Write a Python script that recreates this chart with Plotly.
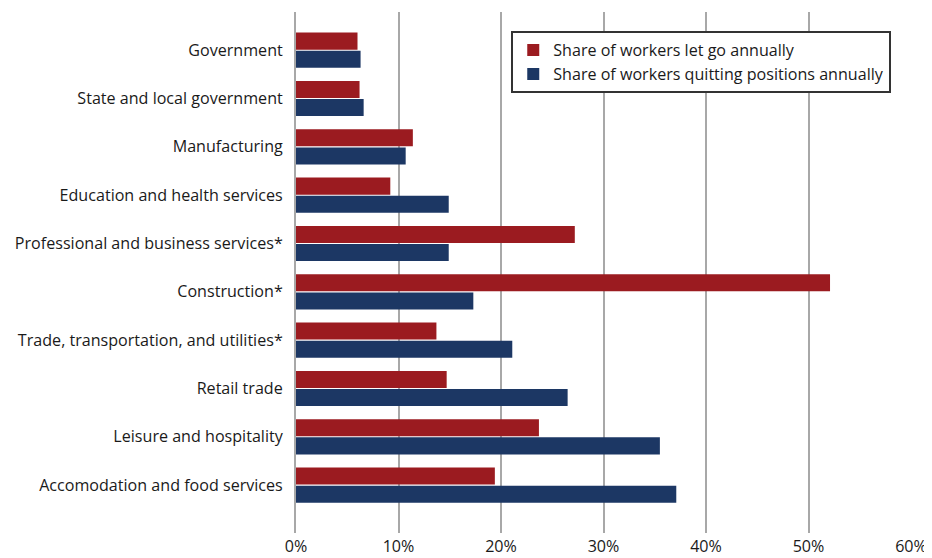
import plotly.graph_objects as go

categories = [
    "Government",
    "State and local government",
    "Manufacturing",
    "Education and health services",
    "Professional and business services*",
    "Construction*",
    "Trade, transportation, and utilities*",
    "Retail trade",
    "Leisure and hospitality",
    "Accomodation and food services",
]
let_go = [6.0, 6.2, 11.4, 9.2, 27.2, 52.1, 13.7, 14.7, 23.7, 19.4]
quitting = [6.3, 6.6, 10.7, 14.9, 14.9, 17.3, 21.1, 26.5, 35.5, 37.1]
x_ticks = [0, 10, 20, 30, 40, 50, 60]
x_tick_labels = ["0%", "10%", "20%", "30%", "40%", "50%", "60%"]

FONT = "Open Sans"
FS = 16.1
RED = "#9B1B20"
BLUE = "#1C3764"

fig = go.Figure()
fig.add_trace(go.Bar(
    y=categories, x=let_go, orientation="h",
    name="Share of workers let go annually",
    marker=dict(color=RED, line=dict(width=0)),
))
fig.add_trace(go.Bar(
    y=categories, x=quitting, orientation="h",
    name="Share of workers quitting positions annually",
    marker=dict(color=BLUE, line=dict(width=0)),
))

# page has an 8px body margin, so the figure is sized/offset to compensate
fig.update_layout(
    width=924, height=550,
    margin=dict(l=288, r=21, t=4, b=25, autoexpand=False),
    paper_bgcolor="white", plot_bgcolor="white",
    barmode="group", bargap=0.25, bargroupgap=0.06,
    font=dict(family=FONT, size=FS, color="#1a1a1a"),
    showlegend=True,
    legend=dict(
        x=0.35, y=0.9635, xanchor="left", yanchor="top",
        bordercolor="#333333", borderwidth=2, bgcolor="white",
        font=dict(family=FONT, size=FS, color="#1a1a1a"),
        traceorder="normal", itemwidth=30, tracegroupgap=0,
    ),
)
fig.update_xaxes(
    range=[0, 60], tickvals=x_ticks, ticktext=x_tick_labels,
    showgrid=True, gridcolor="#A8A8A8", gridwidth=1.5,
    zeroline=False, showline=False, ticks="", ticklabelstandoff=2,
    automargin=False,
    tickfont=dict(family=FONT, size=FS, color="#1a1a1a"),
)
fig.update_yaxes(
    categoryorder="array", categoryarray=categories,
    range=[9.99, -0.79],
    showgrid=False, showline=True, linecolor="#A8A8A8", linewidth=2,
    ticks="", ticklabelstandoff=8, automargin=False,
    tickfont=dict(family=FONT, size=FS, color="#1a1a1a"),
)

fig.write_html("out.html")
